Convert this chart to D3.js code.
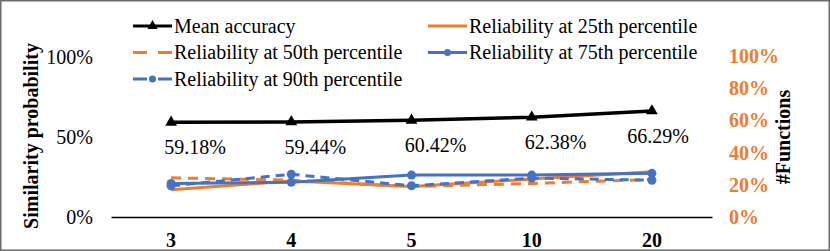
<!DOCTYPE html>
<html>
<head>
<meta charset="utf-8">
<script src="https://cdn.jsdelivr.net/npm/d3@7"></script>
<style>
  body { margin: 0; background: #fff; }
  svg text { font-family: "Liberation Serif", "Times New Roman", serif; }
</style>
</head>
<body>
<svg width="830" height="251"></svg>
<script>
// data
var categories = ["3", "4", "5", "10", "20"];
var meanAccuracy = [0.5918, 0.5944, 0.6042, 0.6238, 0.6629];
var rel25 = [0.17, 0.225, 0.19, 0.237, 0.283];
var rel50 = [0.245, 0.23, 0.19, 0.21, 0.235];
var rel75 = [0.21, 0.217, 0.262, 0.262, 0.273];
var rel90 = [0.195, 0.267, 0.195, 0.243, 0.23];
var leftTicks = [0, 0.5, 1];
var rightTicks = [0, 0.2, 0.4, 0.6, 0.8, 1];

var orange = "#ED7D31", blue = "#4472C4";
var FONT = "'Liberation Serif', 'Times New Roman', serif";

var series = [
  { name: "Mean accuracy", values: meanAccuracy, color: "#000", dash: null, marker: "triangle" },
  { name: "Reliability at 25th percentile", values: rel25, color: orange, dash: null, marker: null },
  { name: "Reliability at 50th percentile", values: rel50, color: orange, dash: "10,7", marker: null },
  { name: "Reliability at 75th percentile", values: rel75, color: blue, dash: null, marker: "circle" },
  { name: "Reliability at 90th percentile", values: rel90, color: blue, dash: "9,6", marker: "circle" }
];

var svg = d3.select("svg");
var W = 830, H = 251;

svg.append("rect")
  .attr("x", 0.75).attr("y", 0.75)
  .attr("width", W - 1.5).attr("height", H - 1.5)
  .attr("fill", "#fff").attr("stroke", "#6b6b6b").attr("stroke-width", 1.5);

var x = d3.scaleBand().domain(categories).range([111, 712]);
var y = d3.scaleLinear().domain([0, 1]).range([217, 57]);
var yR = d3.scaleLinear().domain([0, 1]).range([217, 56]);
var cx = function (i) { return x(categories[i]) + x.bandwidth() / 2; };

// left axis
var gl = svg.append("g")
  .attr("transform", "translate(93,0)")
  .call(d3.axisLeft(y).tickValues(leftTicks).tickSize(0).tickPadding(0).tickFormat(d3.format(".0%")));
gl.select(".domain").remove();
gl.selectAll("text").style("font-family", FONT).style("font-size", "20px").attr("fill", "#000");

// right axis
var gr = svg.append("g")
  .attr("transform", "translate(729,0)")
  .call(d3.axisRight(yR).tickValues(rightTicks).tickSize(0).tickPadding(0).tickFormat(d3.format(".0%")));
gr.select(".domain").remove();
gr.selectAll("text").style("font-family", FONT).style("font-size", "20px").style("font-weight", "bold")
  .attr("fill", orange);

// x axis
var gx = svg.append("g")
  .attr("transform", "translate(0,217)")
  .call(d3.axisBottom(x).tickSize(0).tickPadding(16));
gx.select(".domain").attr("stroke", "#000").attr("stroke-width", 1.3);
gx.selectAll("text").style("font-family", FONT).style("font-size", "20px").style("font-weight", "bold")
  .attr("fill", "#000");

// axis titles
svg.append("text")
  .attr("transform", "translate(38,136) rotate(-90)")
  .attr("text-anchor", "middle")
  .style("font-family", FONT).style("font-size", "20px").style("font-weight", "bold")
  .text("Similarity probability");

svg.append("text")
  .attr("transform", "translate(790,137) rotate(-90)")
  .attr("text-anchor", "middle")
  .style("font-family", FONT).style("font-size", "20px").style("font-weight", "bold")
  .text("#Functions");

// lines
var line = d3.line()
  .x(function (d, i) { return cx(i); })
  .y(function (d) { return y(d); });

var drawOrder = [1, 2, 4, 3, 0];
drawOrder.forEach(function (k) {
  var s = series[k];
  svg.append("path")
    .datum(s.values)
    .attr("d", line)
    .attr("fill", "none")
    .attr("stroke", s.color)
    .attr("stroke-width", k === 0 ? 3.5 : 3)
    .attr("stroke-dasharray", s.dash);
  if (s.marker === "circle") {
    svg.selectAll(null).data(s.values).enter().append("circle")
      .attr("cx", function (d, i) { return cx(i); })
      .attr("cy", function (d) { return y(d); })
      .attr("r", 4.5).attr("fill", s.color);
  } else if (s.marker === "triangle") {
    svg.selectAll(null).data(s.values).enter().append("path")
      .attr("d", d3.symbol(d3.symbolTriangle, 60))
      .attr("transform", function (d, i) { return "translate(" + cx(i) + "," + y(d) + ")"; })
      .attr("fill", s.color);
  }
});

// mean accuracy labels
svg.selectAll(null).data(meanAccuracy).enter().append("text")
  .attr("x", function (d, i) { return Math.min(cx(i) + 24, 712 - 54); })
  .attr("y", function (d) { return y(d) + 32; })
  .attr("text-anchor", "middle")
  .style("font-family", FONT).style("font-size", "20px")
  .text(function (d) { return d3.format(".2%")(d); });

// legend
var legend = svg.append("g").selectAll("g")
  .data(series).enter().append("g")
  .attr("transform", function (d, i) {
    var col = i % 2, row = Math.floor(i / 2);
    return "translate(" + (col === 0 ? 133 : 428) + "," + (26 + row * 26.5) + ")";
  });

legend.append("line")
  .attr("x1", 0).attr("x2", 39).attr("y1", 0).attr("y2", 0)
  .attr("stroke", function (d) { return d.color; })
  .attr("stroke-width", 3)
  .attr("stroke-dasharray", function (d) { return d.dash ? "14,11" : null; });

legend.filter(function (d) { return d.marker === "circle"; }).append("circle")
  .attr("cx", 19.5).attr("r", 3.5).attr("fill", function (d) { return d.color; });
legend.filter(function (d) { return d.marker === "triangle"; }).append("path")
  .attr("d", d3.symbol(d3.symbolTriangle, 45))
  .attr("transform", "translate(19.5,0)").attr("fill", "#000");

legend.append("text")
  .attr("x", 41).attr("y", 0).attr("dy", "0.33em")
  .style("font-family", FONT).style("font-size", "20px")
  .text(function (d) { return d.name; });
</script>
</body>
</html>
